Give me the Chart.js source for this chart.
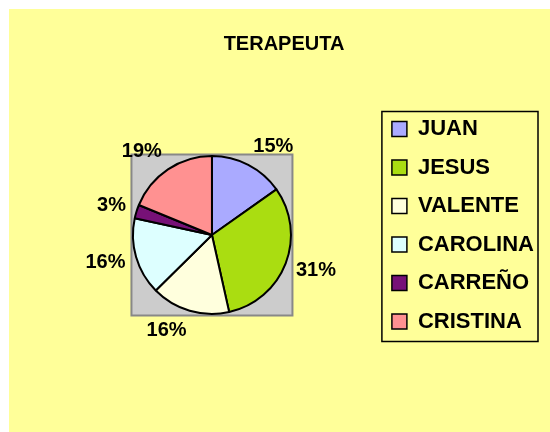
<!DOCTYPE html>
<html>
<head>
<meta charset="utf-8">
<script src="https://cdn.jsdelivr.net/npm/chart.js@4.4.1/dist/chart.umd.min.js"></script>
<style>
  html, body { margin: 0; padding: 0; background: #ffffff; }
  #wrap { position: absolute; left: 0; top: 0; width: 550px; height: 432px; }
</style>
</head>
<body>
<div id="wrap"><canvas id="c" width="550" height="432"></canvas></div>
<script>
// ---- data ----
const titleText = 'TERAPEUTA';
const categories = ['JUAN', 'JESUS', 'VALENTE', 'CAROLINA', 'CARREÑO', 'CRISTINA'];
const shares = [15.2, 31.3, 16.1, 15.8, 2.8, 18.8];
const sliceColors = ['#AAAAFF', '#AADD11', '#FFFFDD', '#DDFFFF', '#771177', '#FF9191'];

const FONT = "'Liberation Sans', Arial, sans-serif";

const backgroundPlugin = {
  id: 'bgPanel',
  beforeDraw(chart) {
    const ctx = chart.ctx;
    ctx.save();
    ctx.fillStyle = '#FFFF99';
    ctx.fillRect(9, 9, chart.width - 9, chart.height - 9);
    ctx.restore();
  }
};

// empty layout box on the left so the pie sits left of the title's centre
const leftSpacerPlugin = {
  id: 'leftSpacer',
  beforeInit(chart) {
    const box = {
      position: 'left', fullSize: false, weight: 100, options: {},
      left: 0, top: 0, right: 0, bottom: 0, width: 0, height: 0,
      isHorizontal() { return false; },
      update(maxWidth, maxHeight) { this.width = 24.5; this.height = maxHeight; },
      draw() {}
    };
    Chart.layouts.addBox(chart, box);
  }
};

const plotSquarePlugin = {
  id: 'plotSquare',
  beforeDatasetsDraw(chart) {
    const arc = chart.getDatasetMeta(0).data[0];
    if (!arc) return;
    const { x, y, outerRadius } = arc.getProps(['x', 'y', 'outerRadius'], true);
    const h = outerRadius + 1.5;
    const ctx = chart.ctx;
    ctx.save();
    ctx.fillStyle = '#CCCCCC';
    ctx.fillRect(x - h, y - h, 2 * h, 2 * h);
    ctx.strokeStyle = '#888888';
    ctx.lineWidth = 2;
    ctx.strokeRect(x - h, y - h, 2 * h, 2 * h);
    ctx.restore();
  }
};

// percentage labels placed just outside the rim, pushed away from the pie
const pctLabelPlugin = {
  id: 'pctLabels',
  afterDatasetsDraw(chart) {
    const meta = chart.getDatasetMeta(0);
    const data = chart.data.datasets[0].data;
    const total = data.reduce((a, b) => a + b, 0);
    const ctx = chart.ctx;
    ctx.save();
    ctx.font = 'bold 20px ' + FONT;
    ctx.fillStyle = '#000000';
    ctx.textAlign = 'center';
    ctx.textBaseline = 'middle';
    meta.data.forEach((arc, i) => {
      const p = arc.getProps(['x', 'y', 'startAngle', 'endAngle', 'outerRadius'], true);
      const mid = (p.startAngle + p.endAngle) / 2;
      const d = p.outerRadius + 11;
      const txt = Math.round(data[i] / total * 100) + '%';
      const w = ctx.measureText(txt).width;
      const c = Math.cos(mid), s = Math.sin(mid);
      const cx = p.x + c * d + Math.sign(c) * w / 2;
      const cy = p.y + s * d + s * 10;
      ctx.fillText(txt, cx, cy);
    });
    ctx.restore();
  }
};

const legendBorderPlugin = {
  id: 'legendBorder',
  afterDraw(chart) {
    const boxes = chart.legend && chart.legend.legendHitBoxes;
    if (!boxes || !boxes.length) return;
    let l = Infinity, t = Infinity, r = -Infinity, b = -Infinity;
    boxes.forEach(hb => {
      l = Math.min(l, hb.left); t = Math.min(t, hb.top);
      r = Math.max(r, hb.left + hb.width); b = Math.max(b, hb.top + hb.height);
    });
    const ctx = chart.ctx;
    ctx.save();
    ctx.strokeStyle = '#000000';
    ctx.lineWidth = 1.5;
    ctx.strokeRect(l - 10, t - 6.5, (r + 4) - (l - 10), (b + 9) - (t - 6.5));
    ctx.restore();
  }
};

new Chart(document.getElementById('c'), {
  type: 'pie',
  data: {
    labels: categories,
    datasets: [{
      data: shares,
      backgroundColor: sliceColors,
      borderColor: '#000000',
      borderWidth: 2,
      radius: 79
    }]
  },
  options: {
    responsive: false,
    animation: false,
    devicePixelRatio: 1,
    layout: { padding: { top: 0, left: 24, right: 6, bottom: 18.5 } },
    plugins: {
      title: {
        display: true,
        text: titleText,
        color: '#000000',
        font: { family: FONT, size: 20, weight: 'bold', lineHeight: 1.2 },
        padding: { top: 32.5, bottom: 0 }
      },
      legend: {
        display: true,
        position: 'right',
        align: 'center',
        maxWidth: 300,
        title: { display: true, text: '', font: { size: 10, lineHeight: 1.2 }, padding: 12.5 },
        labels: {
          color: '#000000',
          font: { family: FONT, size: 22, weight: 'bold' },
          boxWidth: 15,
          boxHeight: 15,
          padding: 16.5,
          generateLabels(chart) {
            const base = Chart.overrides.pie.plugins.legend.labels.generateLabels(chart);
            return base.map(it => Object.assign({}, it, { lineWidth: 1.5 }));
          }
        }
      },
      tooltip: { enabled: false }
    }
  },
  plugins: [backgroundPlugin, leftSpacerPlugin, plotSquarePlugin, pctLabelPlugin, legendBorderPlugin]
});
</script>
</body>
</html>
